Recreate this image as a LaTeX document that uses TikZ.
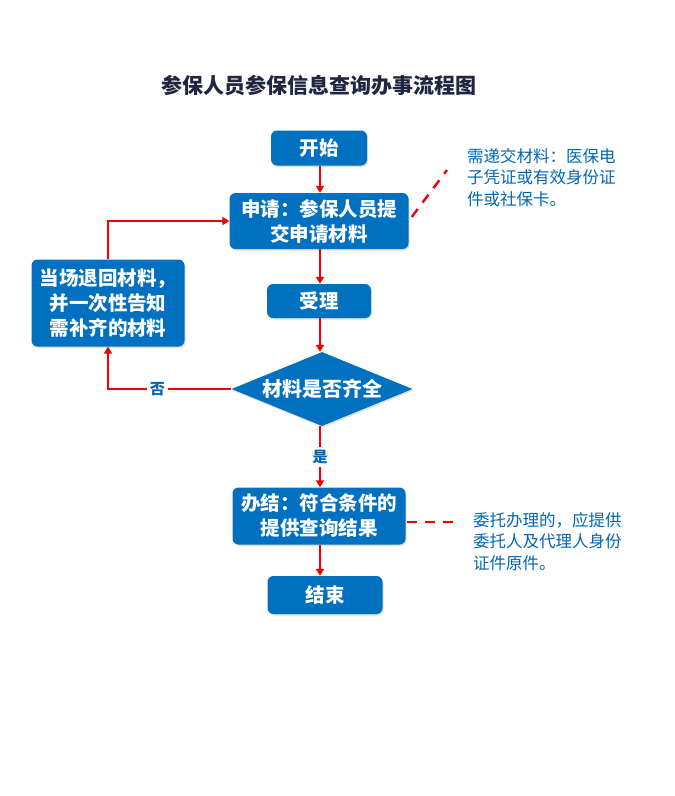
\documentclass[tikz,border=0pt]{standalone}
\usepackage{fontspec}
\usepackage{tikz}
\usetikzlibrary{arrows.meta,shapes.geometric,shadows}
\newfontfamily\cjk{Noto Sans CJK SC}
\definecolor{boxblue}{RGB}{0,112,192}
\definecolor{notebl}{RGB}{0,102,184}
\definecolor{titlec}{RGB}{31,38,64}
\definecolor{arrowred}{RGB}{240,0,0}

\begin{document}
\begin{tikzpicture}[
    x=1pt, y=-1pt,
    box/.style = {draw=none, fill=boxblue, text=white, rounded corners=6pt, align=center,
      font=\cjk\bfseries\fontsize{19.5}{25}\selectfont, inner sep=0pt,
      drop shadow={opacity=0.25, shadow xshift=1pt, shadow yshift=-1.5pt}},
    checkbox/.style = {diamond, fill=boxblue, text=white, inner sep=0pt, aspect=2.45,
      minimum width=181pt, minimum height=74pt,
      font=\cjk\bfseries\fontsize{20}{25}\selectfont,
      drop shadow={opacity=0.25, shadow xshift=1pt, shadow yshift=-1.5pt}},
    note/.style = {text=notebl, align=left, inner sep=0pt, font=\cjk\fontsize{16.5}{21.5}\selectfont},
    yesno/.style = {text=notebl, fill=white, inner sep=3pt, font=\cjk\bfseries\fontsize{15}{17}\selectfont},
    arrowline/.style = {arrowred, line width=2.4pt, -{Triangle[length=7pt,width=8pt]}},
    dashline/.style = {arrowred, line width=2.4pt, dash pattern=on 10pt off 8pt}
  ]
    \useasboundingbox[fill=white] (0,0) rectangle (675,796);
    \node[font=\cjk\bfseries\fontsize{21}{24}\selectfont, text=titlec] (title) at (319,85) {参保人员参保信息查询办事流程图};

    \node[box, minimum width=96pt, minimum height=35pt] (start) at (319,148) {开始};
    \node[box, minimum width=179pt, minimum height=56pt] (apply) at (319,221) {申请：参保人员提\\交申请材料};
    \node[box, minimum width=104pt, minimum height=34pt] (accept) at (319,301) {受理};
    \node[checkbox] (full) at (322,389) {材料是否齐全};
    \node[box, minimum width=153pt, minimum height=87pt] (back) at (108,303) {当场退回材料，\\并一次性告知\\需补齐的材料};
    \node[box, minimum width=173pt, minimum height=57pt] (done) at (319,516) {办结：符合条件的\\提供查询结果};
    \node[box, minimum width=115pt, minimum height=38pt] (end) at (325,595) {结束};

    \node[note, anchor=north west] (note1) at (467,148) {需递交材料：医保电\\子凭证或有效身份证\\件或社保卡。};
    \node[note, anchor=north west] (note2) at (473,512) {委托办理的，应提供\\委托人及代理人身份\\证件原件。};
    \coordinate (n1) at (447,170);
    \coordinate (n2) at (456,522);

    \draw[arrowline] (start.south -| 320,0) -- (apply.north -| 320,0);
    \draw[arrowline] (apply.south -| 320,0) -- (accept.north -| 320,0);
    \draw[arrowline] (accept.south -| 320,0) -- (full.north -| 320,0);
    \draw[arrowline] (full.south -| 320,0) -- node[yesno] {是} (done.north -| 320,0);
    \draw[arrowline] (done.south -| 320,0) -- (end.north -| 320,0);
    \draw[arrowline] (full.west) -- node[yesno, pos=0.6] {否} (full.west -| back.south) -- (back.south);
    \draw[arrowline] (back.north) -- (back.north |- apply.west) -- (apply.west);

    \draw[dashline] (apply.east) ++(3,-4) -- (n1);
    \draw[dashline] (done.east) ++(1,6) -- (n2);
\end{tikzpicture}
\end{document}
